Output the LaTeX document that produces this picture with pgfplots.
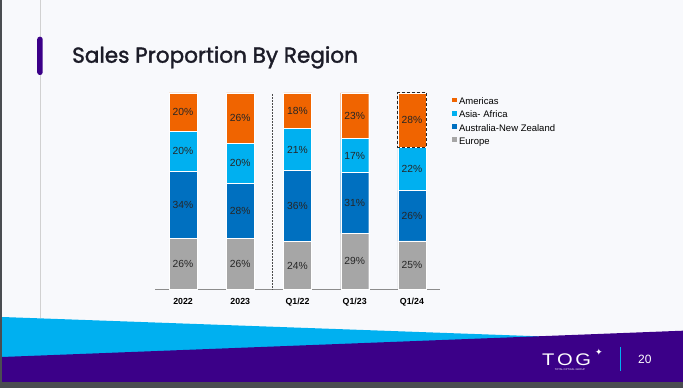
\documentclass[border=0pt]{standalone}
\usepackage{pgfplots}
\pgfplotsset{compat=1.18}
\usepackage{graphicx}
\usepackage{fontspec}
\setmainfont{Liberation Sans}
\newfontfamily\titlefont{Poppins}[FakeBold=1.6]
\newfontfamily\symfont{DejaVu Sans}
\definecolor{bg}{HTML}{F8F9FC}
\definecolor{edge}{HTML}{4A4D51}
\definecolor{cyanband}{HTML}{00B0F0}
\definecolor{purpleband}{HTML}{3B0088}
\definecolor{cOrange}{HTML}{F06400}
\definecolor{cLight}{HTML}{00B0F0}
\definecolor{cBlue}{HTML}{0070C0}
\definecolor{cGray}{HTML}{A6A6A6}
\definecolor{lbl}{HTML}{262626}
\definecolor{titlec}{HTML}{1C1C28}

\pgfplotstableread{
x europe anz asia americas
0 25.9 34.4 20.1 19.6
1 25.9 28.0 20.6 25.5
2 24.4 36.1 21.4 18.1
3 28.6 31.0 17.2 23.2
4 24.7 25.7 22.0 27.6
}\shares

\pgfplotstableread{
x y lab
0 12.95 26
0 43.10 34
0 70.35 20
0 90.20 20
1 12.95 26
1 39.90 28
1 64.20 20
1 87.25 26
2 12.20 24
2 42.45 36
2 71.20 21
2 90.95 18
3 14.30 29
3 44.10 31
3 68.20 17
3 88.40 23
4 12.35 25
4 37.55 26
4 61.40 22
4 86.20 28
}\labels

\begin{document}
\begin{tikzpicture}[x=1pt,y=1pt]
\useasboundingbox (0,0) rectangle (683,388);
% slide background
\fill[bg] (0,0) rectangle (683,388);
\draw[black!18, line width=0.7pt] (40,388) -- (40,70);
\fill[purpleband, rounded corners=2.6pt] (37.2,313) rectangle (42.7,351.3);
\node[anchor=base west, inner sep=0pt, text=titlec, font=\titlefont\fontsize{21.6}{26}\selectfont] at (72,325.3) {Sales Proportion By Region};
% footer bands
\fill[cyanband] (2,71) -- (683,46.5) -- (683,6) -- (2,6) -- cycle;
\fill[purpleband] (2,31) -- (683,57.3) -- (683,6) -- (2,6) -- cycle;
\fill[edge] (0,0) rectangle (683,6.3);
\fill[edge] (0,0) rectangle (2.2,388);
% logo and page number
\node[anchor=base west, inner sep=0pt, text=white, font=\fontsize{16.8}{16.8}\selectfont] at (542,22) {\scalebox{1.2}[1]{T\kern2.2pt O\kern2.2pt G}};
\node[anchor=center, inner sep=0pt, text=white, font=\symfont\fontsize{9}{9}\selectfont] at (599,35.5) {✦};
\node[anchor=center, inner sep=0pt, text=white!80, font=\fontsize{2.6}{3}\selectfont] at (570,18.5) {TOTAL OPTICAL GROUP};
\draw[cyanband, line width=1.4pt] (620.7,41) -- (620.7,17.3);
\node[anchor=base west, inner sep=0pt, text=white, font=\fontsize{12}{14}\selectfont] at (638,24.7) {20};

% chart
\begin{axis}[
  at={(155pt,98.5pt)}, anchor=south west,
  scale only axis, width=285pt, height=196.5pt,
  xmin=-0.49, xmax=4.49, ymin=0, ymax=100,
  ybar stacked, bar width=28pt,
  axis x line*=bottom, axis y line=none,
  x axis line style={draw=black!45, line width=0.8pt},
  xtick={0,1,2,3,4},
  xticklabels={2022,2023,Q1/22,Q1/23,Q1/24},
  xtick style={draw=none},
  xticklabel style={font=\bfseries\fontsize{8.8}{10}\selectfont, text=black, inner sep=0pt, text height=6.3pt, text depth=0pt},
  xticklabel shift=8.4pt,
  reverse legend,
  legend style={draw=none, fill=none, at={(1,1)}, anchor=north west, xshift=12pt, yshift=-4.5pt,
    inner sep=0pt, row sep=4.2pt,
    font=\fontsize{9.5}{11}\selectfont,
    nodes={inner sep=0pt, text height=7pt, text depth=2pt}},
  legend cell align=left,
  legend image code/.code={\fill[#1, draw=none] (0pt,-0.3pt) rectangle (4.8pt,4.5pt);},
  /tikz/every odd column/.append style={column sep=2pt},
]
\addplot[fill=cGray, draw=white, line width=0.4pt] table[x=x, y=europe] {\shares};
\addplot[fill=cBlue, draw=white, line width=0.4pt] table[x=x, y=anz] {\shares};
\addplot[fill=cLight, draw=white, line width=0.4pt] table[x=x, y=asia] {\shares};
\addplot[fill=cOrange, draw=white, line width=0.4pt] table[x=x, y=americas] {\shares};
\legend{Europe, Australia-New Zealand, Asia- Africa, Americas}
\end{axis}

\begin{axis}[
  at={(155pt,98.5pt)}, anchor=south west,
  scale only axis, width=285pt, height=196.5pt,
  xmin=-0.49, xmax=4.49, ymin=0, ymax=100,
  hide axis, clip=false,
]
\addplot[draw=none, mark=none, nodes near coords={\pgfplotspointmeta\%}, point meta=explicit symbolic,
  nodes near coords align=center,
  every node near coord/.append style={font=\fontsize{10.3}{12}\selectfont, text=lbl, inner sep=0pt}]
  table[x=x, y=y, meta=lab] {\labels};
\addplot[black!85, line width=1pt, dash pattern=on 3pt off 2pt, mark=none] coordinates {(3.742,72.4) (4.250,72.4) (4.250,100) (3.742,100) (3.742,72.4)};
\addplot[black!70, line width=0.5pt, densely dotted, mark=none] coordinates {(1.55,0) (1.55,100)};
\end{axis}
\end{tikzpicture}
\end{document}
